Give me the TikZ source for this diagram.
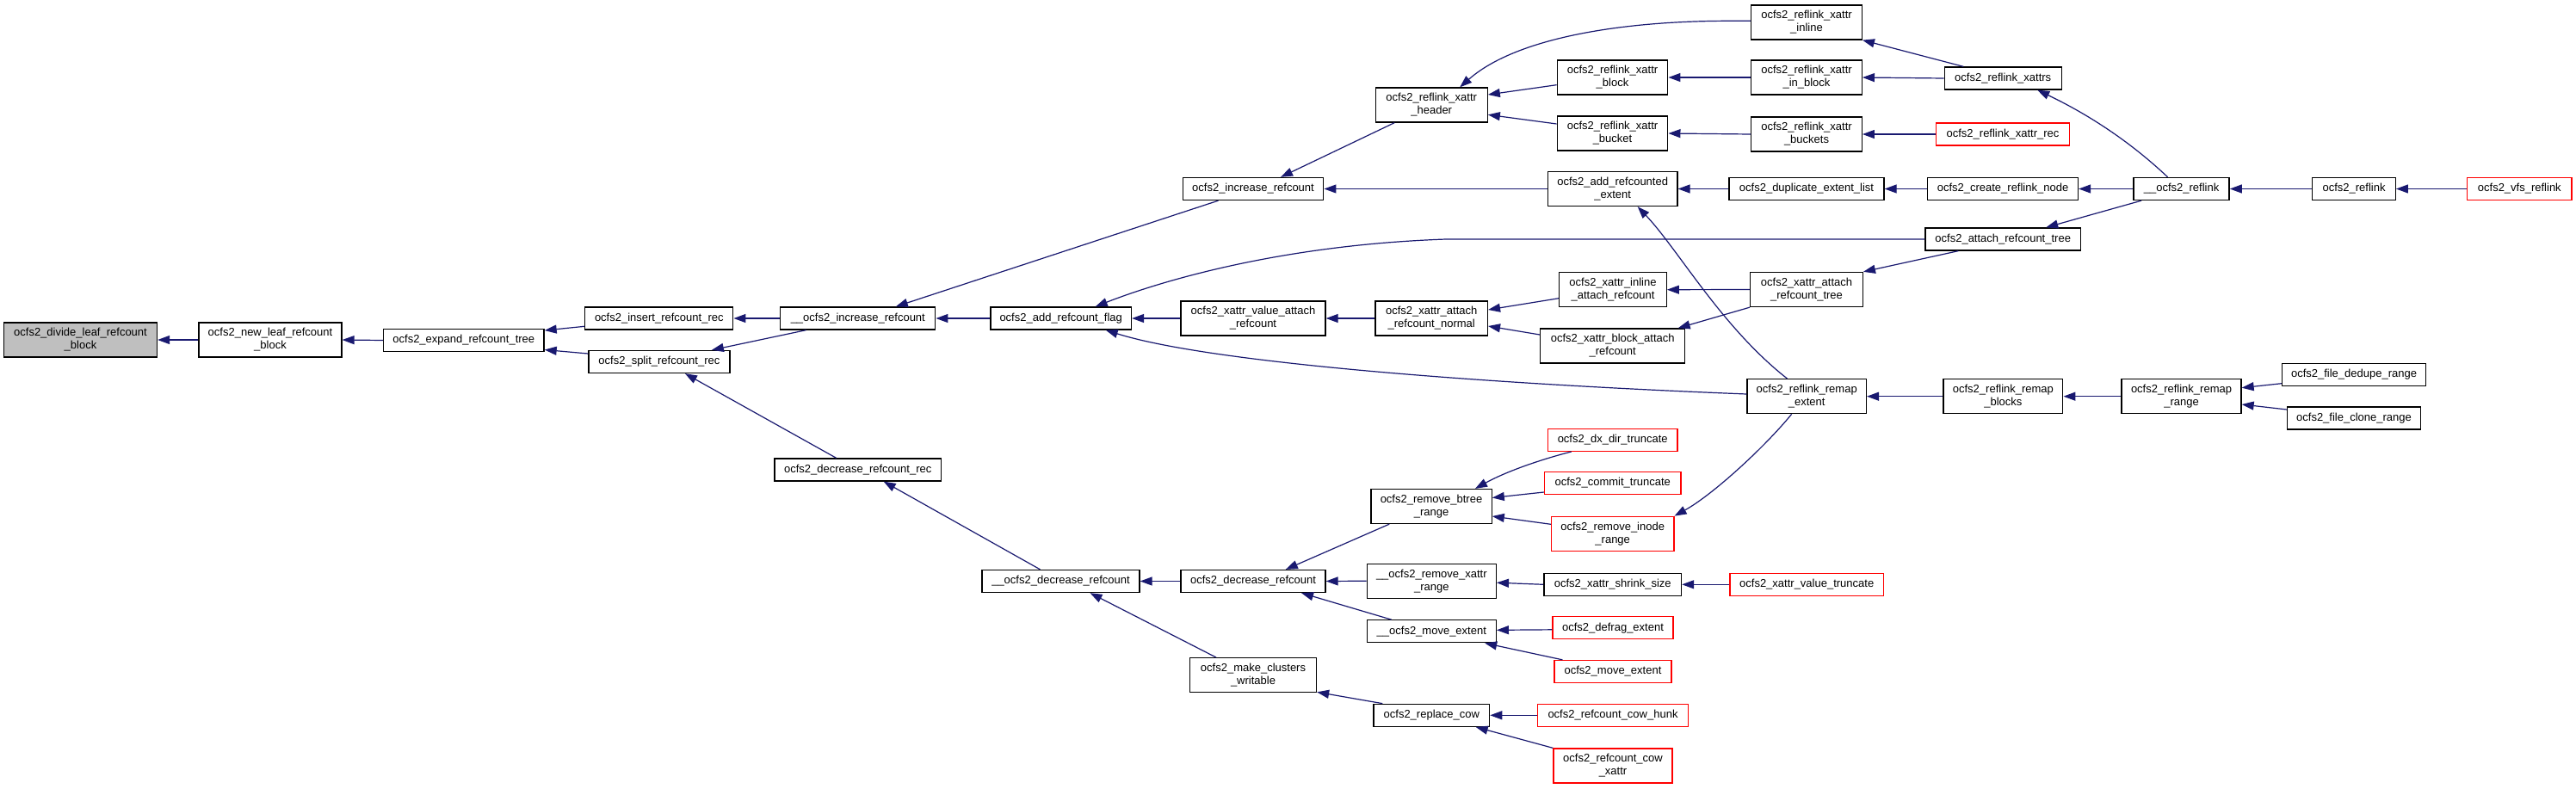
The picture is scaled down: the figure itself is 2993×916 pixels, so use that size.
\documentclass[tikz,border=0pt]{standalone}
\usepackage{fontspec}
\setmainfont{Liberation Sans}
\usetikzlibrary{arrows.meta,calc}
\definecolor{edgeblue}{HTML}{191970}
\definecolor{rootgray}{HTML}{BFBFBF}
\definecolor{linkred}{HTML}{FF0000}
\begin{document}
\begin{tikzpicture}[x=1pt,y=-1pt,
  fn/.style={draw=black, line width=1.3pt, fill=white, inner sep=0pt, align=center,
             font=\fontsize{13}{15}\selectfont},
  sbox/.style={fn, minimum height=26pt},
  dbox/.style={fn, minimum height=40pt},
  w/.style={minimum width=#1},
  redbox/.style={draw=linkred},
  root/.style={fill=rootgray},
  e/.style={draw=edgeblue, line width=1.2pt, {Triangle[length=14pt,width=10pt]}-}]
\fill[white] (0,0) rectangle (2993,916);
\useasboundingbox (0,0) rectangle (2993,916);
% nodes
\node[dbox,root,w=178] (divide) at (93.5,395) {ocfs2\_divide\_leaf\_refcount\\\_block};
\node[dbox,w=166] (newleaf) at (314,395) {ocfs2\_new\_leaf\_refcount\\\_block};
\node[sbox,w=186.5] (expand) at (538.8,395.5) {ocfs2\_expand\_refcount\_tree};
\node[sbox,w=172] (insert) at (765.8,370) {ocfs2\_insert\_refcount\_rec};
\node[sbox,w=164] (split) at (765.9,420.5) {ocfs2\_split\_refcount\_rec};
\node[sbox,w=180] (incrB) at (996.8,370) {\_\_ocfs2\_increase\_refcount};
\node[sbox,w=193.4] (decrec) at (996.7,546) {ocfs2\_decrease\_refcount\_rec};
\node[sbox,w=163.6] (incr) at (1456,219.5) {ocfs2\_increase\_refcount};
\node[sbox,w=163.6] (addflag) at (1232.7,370) {ocfs2\_add\_refcount\_flag};
\node[dbox,w=168] (valattach) at (1456,370) {ocfs2\_xattr\_value\_attach\\\_refcount};
\node[dbox,w=130.4] (normal) at (1663.2,370) {ocfs2\_xattr\_attach\\\_refcount\_normal};
\node[sbox,w=183] (decrB) at (1232.5,675.5) {\_\_ocfs2\_decrease\_refcount};
\node[sbox,w=168] (decr) at (1456,675.5) {ocfs2\_decrease\_refcount};
\node[dbox,w=147] (mkclust) at (1456,784.7) {ocfs2\_make\_clusters\\\_writable};
\node[dbox,w=130] (header) at (1663.2,122) {ocfs2\_reflink\_xattr\\\_header};
\node[dbox,w=128.6] (inline) at (2099,26) {ocfs2\_reflink\_xattr\\\_inline};
\node[dbox,w=128.6] (xblock) at (1873.5,90) {ocfs2\_reflink\_xattr\\\_block};
\node[dbox,w=128.6] (inblock) at (2099,90) {ocfs2\_reflink\_xattr\\\_in\_block};
\node[dbox,w=128.6] (xbucket) at (1873.5,155) {ocfs2\_reflink\_xattr\\\_bucket};
\node[dbox,w=128.6] (xbuckets) at (2099,156) {ocfs2\_reflink\_xattr\\\_buckets};
\node[sbox,w=136] (xattrs) at (2327.2,91) {ocfs2\_reflink\_xattrs};
\node[sbox,redbox,w=154.7] (xrec) at (2327,156) {ocfs2\_reflink\_xattr\_rec};
\node[dbox,w=150.5] (addext) at (1873.7,219.5) {ocfs2\_add\_refcounted\\\_extent};
\node[sbox,w=180] (dup) at (2099,219.5) {ocfs2\_duplicate\_extent\_list};
\node[sbox,w=175] (create) at (2327,219.5) {ocfs2\_create\_reflink\_node};
\node[sbox,w=111] (reflinkB) at (2534.6,219.5) {\_\_ocfs2\_reflink};
\node[sbox,w=96.6] (reflink) at (2735,219.5) {ocfs2\_reflink};
\node[sbox,redbox,w=121.3] (vfs) at (2927.3,219.5) {ocfs2\_vfs\_reflink};
\node[sbox,w=180.5] (attach) at (2327.2,278) {ocfs2\_attach\_refcount\_tree};
\node[dbox,w=124.5] (inlattach) at (1874,336.7) {ocfs2\_xattr\_inline\\\_attach\_refcount};
\node[dbox,w=130.6] (xatree) at (2099,336.5) {ocfs2\_xattr\_attach\\\_refcount\_tree};
\node[dbox,w=168] (blkattach) at (1873.7,402) {ocfs2\_xattr\_block\_attach\\\_refcount};
\node[dbox,w=138.4] (rextent) at (2099.2,460.7) {ocfs2\_reflink\_remap\\\_extent};
\node[dbox,w=138.8] (rblocks) at (2327.4,460.7) {ocfs2\_reflink\_remap\\\_blocks};
\node[dbox,w=139] (rrange) at (2534.5,460.7) {ocfs2\_reflink\_remap\\\_range};
\node[sbox,w=167] (dedupe) at (2735,435.5) {ocfs2\_file\_dedupe\_range};
\node[sbox,w=154.7] (clone) at (2735,486) {ocfs2\_file\_clone\_range};
\node[sbox,redbox,w=150.5] (dxdir) at (1873.7,511.3) {ocfs2\_dx\_dir\_truncate};
\node[sbox,redbox,w=158.6] (commit) at (1873.7,561.5) {ocfs2\_commit\_truncate};
\node[dbox,w=140.3] (btree) at (1663,588.5) {ocfs2\_remove\_btree\\\_range};
\node[dbox,redbox,w=142.3] (rinode) at (1873.7,620.3) {ocfs2\_remove\_inode\\\_range};
\node[dbox,w=150] (rmxattr) at (1663.3,675.2) {\_\_ocfs2\_remove\_xattr\\\_range};
\node[sbox,w=159.7] (shrink) at (1873.7,679.3) {ocfs2\_xattr\_shrink\_size};
\node[sbox,redbox,w=178.3] (vtrunc) at (2099.2,679.3) {ocfs2\_xattr\_value\_truncate};
\node[sbox,w=150] (mvextB) at (1663.3,733.8) {\_\_ocfs2\_move\_extent};
\node[sbox,redbox,w=140] (defrag) at (1874,729.8) {ocfs2\_defrag\_extent};
\node[sbox,redbox,w=135.8] (mvext) at (1874,780.5) {ocfs2\_move\_extent};
\node[sbox,w=134.6] (replace) at (1663.3,831.3) {ocfs2\_replace\_cow};
\node[sbox,redbox,w=174.5] (cowhunk) at (1874,831.3) {ocfs2\_refcount\_cow\_hunk};
\node[dbox,redbox,w=138] (cowxattr) at (1874,890) {ocfs2\_refcount\_cow\\\_xattr};
% edges (arrow tip at the callee)
\draw[e] (divide.east) -- (newleaf.west);
\draw[e] (newleaf.east) -- (expand.west);
\draw[e] ($(expand.east)+(0,-11.5)$) -- ($(insert.west)+(0,9.3)$);
\draw[e] ($(expand.east)+(0,11)$) -- ($(split.west)+(0,-9.5)$);
\draw[e] (insert.east) -- (incrB.west);
\draw[e] ($(split.north)+(61,0)$) -- ($(incrB.south west)+(30.4,0)$);
\draw[e] ($(split.south)+(30,0)$) -- ($(decrec.north)+(-25,0)$);
\draw[e] ($(incrB.north)+(44,0)$) -- ($(incr.south)+(-40.5,0)$);
\draw[e] (incrB.east) -- (addflag.west);
\draw[e] ($(decrec.south)+(30,0)$) -- ($(decrB.north)+(-24,0)$);
\draw[e] (decrB.east) -- (decr.west);
\draw[e] ($(decrB.south)+(34,0)$) -- ($(mkclust.north)+(-43,0)$);
\draw[e] (addflag.east) -- (valattach.west);
\draw[e] ($(addflag.north)+(40,0)$) .. controls (1340,330) and (1480,285) .. (1680,278) -- (attach.west);
\draw[e] ($(addflag.south)+(52,0)$) .. controls (1400,420) and (1700,445) .. ($(rextent.west)+(0,-2.7)$);
\draw[e] ($(incr.north)+(32,0)$) -- ($(header.south)+(-43,0)$);
\draw[e] (incr.east) -- (addext.west);
\draw[e] ($(header.north)+(33,0)$) .. controls (1760,45) and (1880,24.3) .. (2010,24.3) -- ($(inline.west)+(0,-1.7)$);
\draw[e] ($(header.east)+(0,-12)$) -- ($(xblock.west)+(0,8.7)$);
\draw[e] ($(header.east)+(0,11.3)$) -- ($(xbucket.west)+(0,-11)$);
\draw[e] (xblock.east) -- (inblock.west);
\draw[e] (inblock.east) -- (xattrs.west);
\draw[e] (inline.south east) -- ($(xattrs.north)+(-46,0)$);
\draw[e] (xbucket.east) -- (xbuckets.west);
\draw[e] (xbuckets.east) -- (xrec.west);
\draw[e] ($(xattrs.south)+(40,0)$) .. controls (2420,130) and (2470,160) .. ($(reflinkB.north)+(-16,0)$);
\draw[e] (addext.east) -- (dup.west);
\draw[e] (dup.east) -- (create.west);
\draw[e] (create.east) -- (reflinkB.west);
\draw[e] (reflinkB.east) -- (reflink.west);
\draw[e] (reflink.east) -- (vfs.west);
\draw[e] ($(attach.north)+(50,0)$) -- ($(reflinkB.south)+(-46.5,0)$);
\draw[e] (xatree.north east) -- ($(attach.south west)+(39,0)$);
\draw[e] (inlattach.east) -- (xatree.west);
\draw[e] ($(blkattach.north east)+(-8.7,0)$) -- (xatree.south west);
\draw[e] ($(normal.east)+(0,-10)$) -- ($(inlattach.west)+(0,10)$);
\draw[e] ($(normal.east)+(0,9)$) -- ($(blkattach.west)+(0,-13)$);
\draw[e] (valattach.east) -- (normal.west);
\draw[e] ($(addext.south)+(29,0)$) .. controls (1950,290) and (2000,380) .. ($(rextent.north)+(-22.7,0)$);
\draw[e] (rextent.east) -- (rblocks.west);
\draw[e] (rblocks.east) -- (rrange.west);
\draw[e] ($(rrange.east)+(0,-10)$) -- ($(dedupe.west)+(0,10.2)$);
\draw[e] ($(rrange.east)+(0,9.3)$) -- ($(clone.west)+(0,-10)$);
\draw[e] (rinode.north east) .. controls (1990,575) and (2050,520) .. ($(rextent.south)+(-17.6,0)$);
\draw[e] ($(btree.north)+(51,0)$) .. controls (1750,548) and (1790,534) .. ($(dxdir.south west)+(28,0)$);
\draw[e] ($(btree.east)+(0,-10)$) -- ($(commit.west)+(0,10.5)$);
\draw[e] ($(btree.east)+(0,11.5)$) -- ($(rinode.west)+(0,-11)$);
\draw[e] ($(decr.north)+(37.8,0)$) -- ($(btree.south west)+(22,0)$);
\draw[e] (decr.east) -- (rmxattr.west);
\draw[e] ($(decr.south east)+(-28.6,0)$) -- ($(mvextB.north west)+(29,0)$);
\draw[e] ($(rmxattr.east)+(0,2)$) -- (shrink.west);
\draw[e] (shrink.east) -- (vtrunc.west);
\draw[e] ($(mvextB.east)+(0,-1.5)$) -- ($(defrag.west)+(0,2)$);
\draw[e] ($(mvextB.south east)+(-13.8,0)$) -- ($(mvext.north west)+(10,0)$);
\draw[e] ($(mkclust.south east)+(0,-1)$) -- ($(replace.north west)+(11,0)$);
\draw[e] (replace.east) -- (cowhunk.west);
\draw[e] ($(replace.south east)+(-16.6,0)$) -- (cowxattr.north west);
\end{tikzpicture}
\end{document}
